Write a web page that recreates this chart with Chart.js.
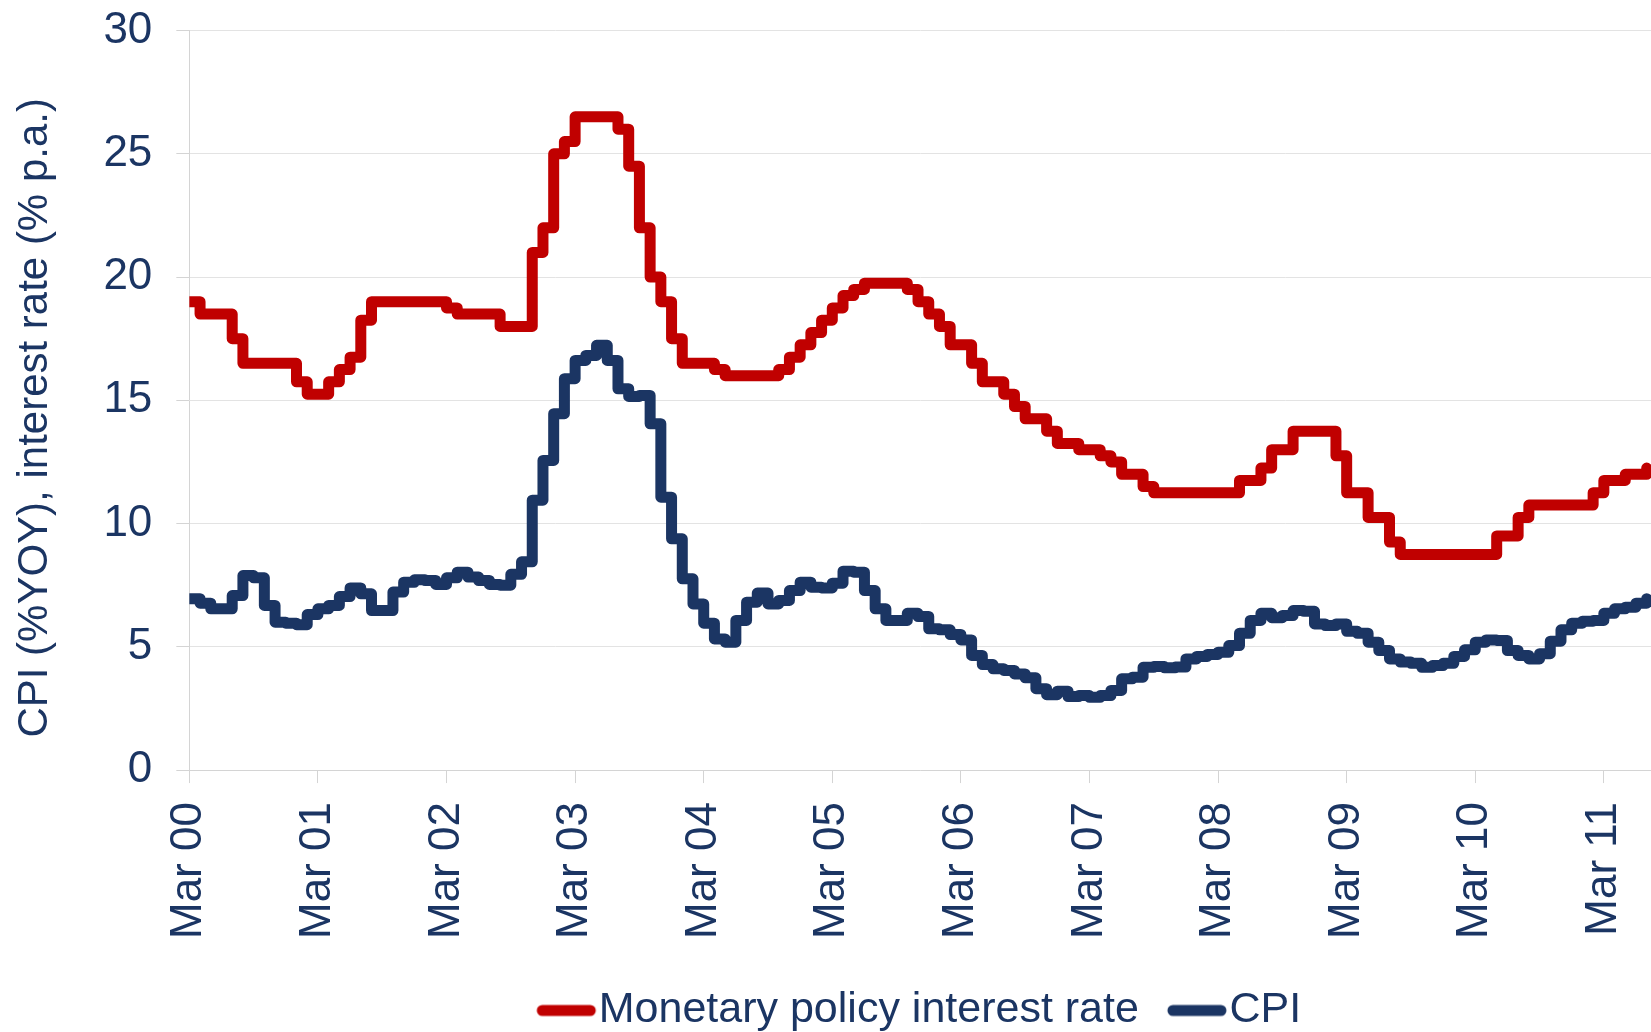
<!DOCTYPE html>
<html>
<head>
<meta charset="utf-8">
<script src="https://cdn.jsdelivr.net/npm/chart.js@4.4.1/dist/chart.umd.min.js"></script>
<style>
  body { margin: 0; background: #ffffff; }
  #wrap { width: 1651px; height: 1032px; }
</style>
</head>
<body>
<div id="wrap"><canvas id="graph" width="1651" height="1032"></canvas></div>
<script>
   /// data : one value per month, starting Mar 2000 ///

   const tickLabels = ['Mar 00','Mar 01','Mar 02','Mar 03','Mar 04','Mar 05',
                       'Mar 06','Mar 07','Mar 08','Mar 09','Mar 10','Mar 11']

   const seriesNames = ['Monetary policy interest rate', 'CPI']

   const policyRate = [
     19, 18.5, 18.5, 18.5, 17.5, 16.5, 16.5, 16.5, 16.5, 16.5, 15.75, 15.25,
     15.25, 15.75, 16.25, 16.75, 18.25, 19, 19, 19, 19, 19, 19, 19,
     18.75, 18.5, 18.5, 18.5, 18.5, 18, 18, 18, 21, 22, 25, 25.5,
     26.5, 26.5, 26.5, 26.5, 26, 24.5, 22, 20, 19, 17.5, 16.5, 16.5,
     16.5, 16.25, 16, 16, 16, 16, 16, 16.25, 16.75, 17.25, 17.75, 18.25,
     18.75, 19.25, 19.5, 19.75, 19.75, 19.75, 19.75, 19.5, 19, 18.5, 18, 17.25,
     17.25, 16.5, 15.75, 15.75, 15.25, 14.75, 14.25, 14.25, 13.75, 13.25, 13.25, 13,
     13, 12.75, 12.5, 12, 12, 11.5, 11.25, 11.25, 11.25, 11.25, 11.25, 11.25,
     11.25, 11.25, 11.75, 11.75, 12.25, 13, 13, 13.75, 13.75, 13.75, 13.75, 12.75,
     11.25, 11.25, 10.25, 10.25, 9.25, 8.75, 8.75, 8.75, 8.75, 8.75, 8.75, 8.75,
     8.75, 8.75, 9.5, 9.5, 10.25, 10.75, 10.75, 10.75, 10.75, 10.75, 10.75, 11.25,
     11.75, 11.75, 12, 12, 12.25
   ]

   const cpi = [
     6.95, 6.77, 6.54, 6.54, 7.08, 7.89, 7.8, 6.68, 6.0, 5.96, 5.9, 6.31,
     6.54, 6.68, 7.04, 7.39, 7.15, 6.47, 6.47, 7.22, 7.62, 7.72, 7.69, 7.53,
     7.8, 8.03, 7.83, 7.69, 7.53, 7.5, 7.94, 8.45, 10.95, 12.56, 14.46, 15.88,
     16.62, 16.82, 17.23, 16.62, 15.47, 15.16, 15.2, 14.05, 11.07, 9.38, 7.76, 6.74,
     5.96, 5.32, 5.19, 6.07, 6.81, 7.18, 6.74, 6.88, 7.28, 7.62, 7.42, 7.39,
     7.58, 8.07, 8.03, 7.28, 6.54, 6.07, 6.07, 6.36, 6.23, 5.73, 5.69, 5.5,
     5.28, 4.65, 4.28, 4.11, 4.04, 3.9, 3.74, 3.3, 3.06, 3.2, 2.98, 3.02,
     2.95, 3.02, 3.23, 3.7, 3.77, 4.17, 4.2, 4.15, 4.18, 4.51, 4.61, 4.69,
     4.78, 5.05, 5.55, 6.07, 6.36, 6.18, 6.27, 6.47, 6.44, 5.93, 5.86, 5.93,
     5.63, 5.55, 5.19, 4.85, 4.51, 4.38, 4.33, 4.17, 4.24, 4.33, 4.61, 4.88,
     5.19, 5.28, 5.26, 4.85, 4.65, 4.51, 4.72, 5.23, 5.69, 5.96, 6.04, 6.07,
     6.36, 6.54, 6.61, 6.77, 6.95
   ]

   /// colours and fonts ///
   const red = '#C00000'
   const navy = '#1B3563'
   const gridGrey = '#e3e3e3'
   const axisGrey = '#d4d4d4'
   const fontFam = '"Liberation Sans", Arial, sans-serif'
   const lineW = 11

   function toPoints(arr) {
     return arr.map((v, i) => ({ x: i, y: v }))
   }

   function lineSet(label, values, colour) {
     return {
       label: label,
       data: toPoints(values),
       borderColor: colour,
       backgroundColor: colour,
       borderWidth: lineW,
       stepped: true,
       borderJoinStyle: 'round',
       borderCapStyle: 'round',
       pointRadius: 0,
       pointHoverRadius: 0,
       fill: false
     }
   }

   // legend swatch : a short round-capped line that runs up close to the label text
   function legendSwatch(colour) {
     const c = document.createElement('canvas')
     c.width = 80
     c.height = 16
     const g = c.getContext('2d')
     g.strokeStyle = colour
     g.lineWidth = lineW
     g.lineCap = 'round'
     g.beginPath()
     g.moveTo(24, 8)
     g.lineTo(72, 8)
     g.stroke()
     return c
   }

   //// chart ////
   const ctx = document.getElementById('graph').getContext('2d')
   const myChart = new Chart(ctx, {
     type: 'line',
     data: {
       datasets: [
         lineSet(seriesNames[0], policyRate, red),
         lineSet(seriesNames[1], cpi, navy)
       ]
     },
     options: {
       responsive: false,
       animation: false,
       devicePixelRatio: 1,
       layout: { autoPadding: false, padding: { top: 30, left: 6, right: 0, bottom: -10 } },
       plugins: {
         tooltip: { enabled: false },
         legend: {
           position: 'bottom',
           fullSize: false,
           labels: {
             usePointStyle: true,
             pointStyleWidth: 38,
             padding: 31,
             color: navy,
             font: { family: fontFam, size: 43 },
             generateLabels: chart => chart.data.datasets.map((ds, i) => ({
               text: ds.label,
               strokeStyle: ds.borderColor,
               fillStyle: ds.borderColor,
               fontColor: navy,
               lineWidth: lineW,
               pointStyle: legendSwatch(ds.borderColor),
               hidden: false,
               datasetIndex: i
             }))
           }
         }
       },
       scales: {
         x: {
           type: 'linear',
           min: 0,
           max: 136.4,
           grid: { drawOnChartArea: false, tickLength: 13, color: axisGrey },
           border: { color: axisGrey },
           ticks: {
             stepSize: 12,
             includeBounds: false,
             autoSkip: false,
             maxRotation: 90,
             minRotation: 90,
             padding: 19,
             color: navy,
             font: { family: fontFam, size: 44, lineHeight: 0.3 },
             callback: v => tickLabels[Math.round(v / 12)]
           }
         },
         y: {
           min: 0,
           max: 30,
           grid: { color: gridGrey, tickLength: 13, tickColor: axisGrey },
           border: { color: axisGrey },
           ticks: {
             stepSize: 5,
             padding: 24,
             color: navy,
             font: { family: fontFam, size: 44, lineHeight: 0.3 }
           },
           title: {
             display: true,
             // trailing spaces push the centred title a little lower, like the original
             text: 'CPI (%YOY), interest rate (% p.a.)   ',
             color: navy,
             font: { family: fontFam, size: 42 },
             padding: { top: 4, bottom: 19 }
           }
         }
       }
     }
   })
</script>
</body>
</html>
